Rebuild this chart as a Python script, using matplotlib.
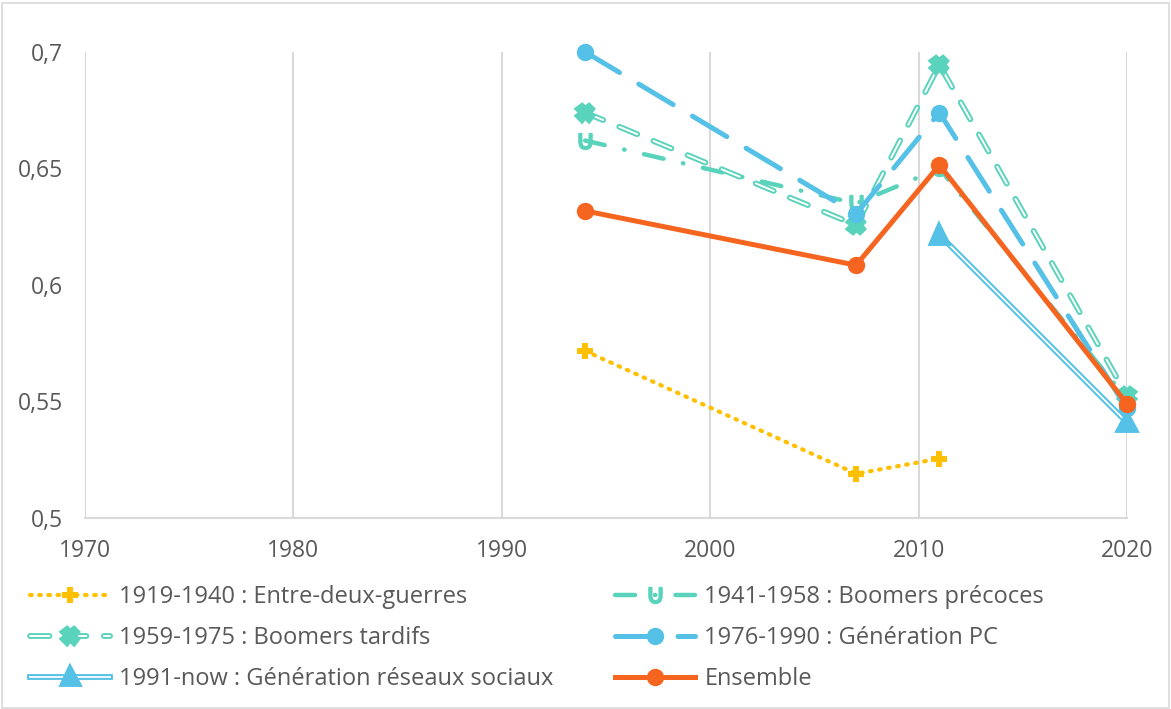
import matplotlib
matplotlib.use("Agg")
import matplotlib.pyplot as plt
import matplotlib.patheffects as pe
import numpy as np

plt.rcParams['font.family'] = ['Open Sans', 'DejaVu Sans']

years_entre = [1994, 2007, 2011]
vals_entre = [0.5717, 0.519, 0.5255]
years_precoces = [1994, 2007, 2011, 2020]
vals_precoces = [0.662, 0.635, 0.650, 0.551]
years_tardifs = [1994, 2007, 2011, 2020]
vals_tardifs = [0.674, 0.6257, 0.6945, 0.5525]
years_pc = [1994, 2007, 2011, 2020]
vals_pc = [0.700, 0.6305, 0.674, 0.547]
years_rs = [2011, 2020]
vals_rs = [0.6215, 0.541]
years_ens = [1994, 2007, 2011, 2020]
vals_ens = [0.6318, 0.6085, 0.6515, 0.549]

labels = ["1919-1940 : Entre-deux-guerres", "1941-1958 : Boomers précoces",
          "1959-1975 : Boomers tardifs", "1976-1990 : Génération PC",
          "1991-now : Génération réseaux sociaux", "Ensemble"]
xticks = [1970, 1980, 1990, 2000, 2010, 2020]
yticks = [0.5, 0.55, 0.6, 0.65, 0.7]
ytick_labels = ["0,5", "0,55", "0,6", "0,65", "0,7"]

GOLD = "#FFC000"
TEAL = "#5AD3BC"
BLUE = "#55C1E6"
ORANGE = "#F5651F"
TXT = "#595959"

fig = plt.figure(figsize=(11.71, 7.09), dpi=100)
fig.patches.append(plt.Rectangle((0.002, 0.002), 0.996, 0.994, transform=fig.transFigure,
                                 fill=False, edgecolor="#D9D9D9", linewidth=1.2))
ax = fig.add_axes([85/1171, 1-518/709, (1127-85)/1171, (518-52)/709])

h_entre, = ax.plot(years_entre, vals_entre, color=GOLD, lw=3, linestyle=(0, (0.4, 1.8)),
                   dash_capstyle='round', marker='P', markersize=12, markeredgewidth=0,
                   label=labels[0], zorder=3)
h_prec, = ax.plot(years_precoces, vals_precoces, color=TEAL, lw=3.2,
                  linestyle=(0, (4.5, 4.5, 0.1, 4.5)), dash_capstyle='round',
                  marker='$\\cup$', markersize=11, markeredgewidth=1.5,
                  label=labels[1], zorder=3)
h_tard, = ax.plot(years_tardifs, vals_tardifs, color="white", lw=1.4,
                  linestyle=(0, (10, 9)), dash_capstyle='round',
                  marker='X', markersize=10, markerfacecolor=TEAL, markeredgecolor=TEAL,
                  markeredgewidth=0,
                  path_effects=[pe.Stroke(linewidth=4.2, foreground=TEAL), pe.Normal()],
                  label=labels[2], zorder=3)
h_pc, = ax.plot(years_pc, vals_pc, color=BLUE, lw=3.6, linestyle=(0, (8, 4.5)),
                dash_capstyle='round', marker='o', markersize=12.5, markeredgewidth=0,
                label=labels[3], zorder=4)
h_rs, = ax.plot(years_rs, vals_rs, color="white", lw=1.3, linestyle='-',
                marker='^', markersize=11, markerfacecolor=BLUE, markeredgecolor=BLUE,
                markeredgewidth=0,
                path_effects=[pe.Stroke(linewidth=4.2, foreground=BLUE), pe.Normal()],
                label=labels[4], zorder=4)
h_ens, = ax.plot(years_ens, vals_ens, color=ORANGE, lw=3.6, linestyle='-',
                 marker='o', markersize=12.5, markeredgewidth=0,
                 label=labels[5], zorder=5)

ax.set_xlim(1970, 2020)
ax.set_ylim(0.5, 0.7)
ax.set_xticks(xticks)
ax.set_yticks(yticks)
ax.set_yticklabels(ytick_labels)
ax.tick_params(axis='both', length=0, labelsize=16.5, colors=TXT)
ax.tick_params(axis='x', pad=15)
ax.tick_params(axis='y', pad=16)
ax.grid(axis='x', color="#D9D9D9", lw=1.5)
ax.grid(axis='y', visible=False)
for s in ['top', 'right', 'left']:
    ax.spines[s].set_visible(False)
ax.spines['bottom'].set_color("#D9D9D9")
ax.spines['bottom'].set_linewidth(1.5)
for l in ax.get_lines():
    l.set_clip_on(False)

handles = [h_entre, h_tard, h_rs, h_prec, h_pc, h_ens]
leg = fig.legend(handles, [h.get_label() for h in handles], ncol=2,
                 loc='upper left', bbox_to_anchor=(30/1171, 1-585/709),
                 frameon=False, fontsize=17, labelcolor=TXT,
                 handlelength=3.4, handletextpad=0.38, columnspacing=2.6,
                 labelspacing=0.72, borderaxespad=0, borderpad=0)

fig.savefig("out.png", dpi=100)
